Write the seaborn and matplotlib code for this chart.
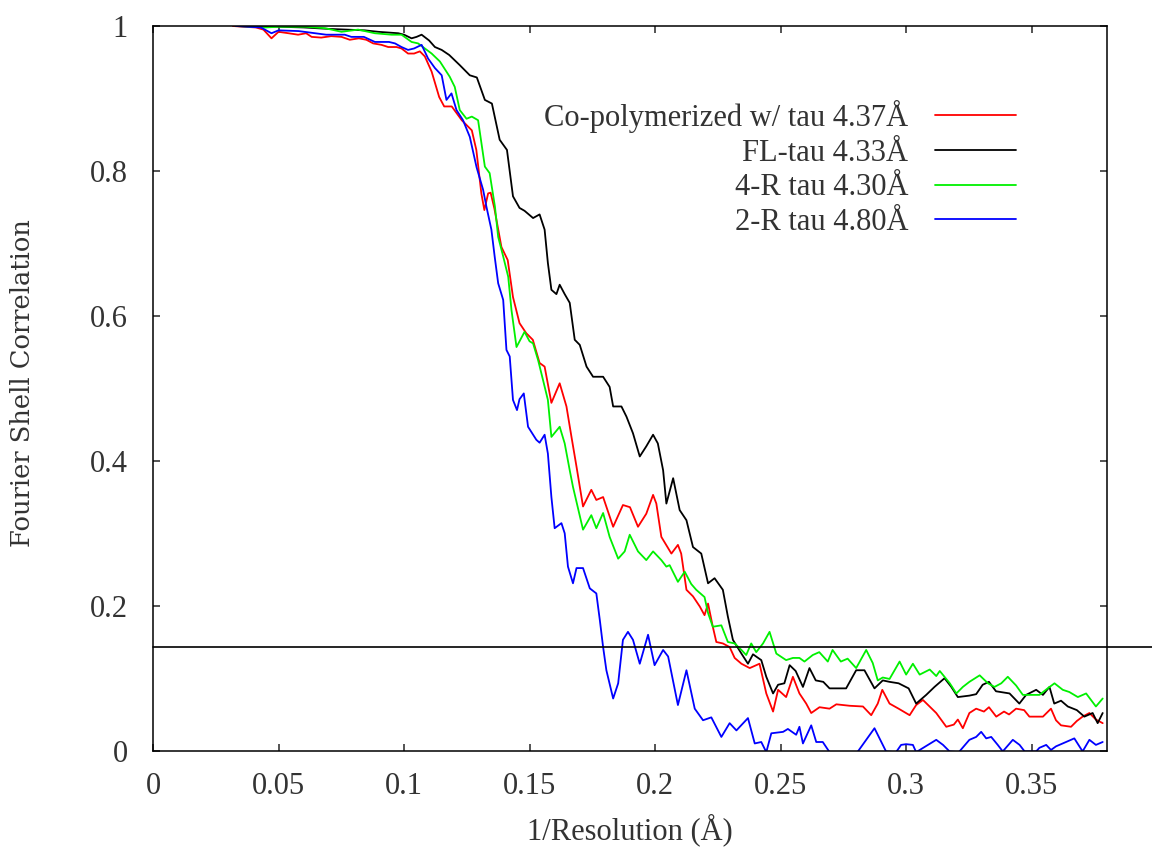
import numpy as np
import pandas as pd
import matplotlib
matplotlib.use("Agg")
import matplotlib.pyplot as plt
import seaborn as sns

# FSC curves (x = 1/resolution in 1/A, y = FSC)
copoly_res = [0.0318, 0.036, 0.041, 0.044, 0.0472, 0.050, 0.054, 0.0578, 0.061, 0.0632,
              0.067, 0.071, 0.0751, 0.0784, 0.082, 0.085, 0.0877, 0.091, 0.0937, 0.097,
              0.099, 0.1016, 0.104, 0.1063, 0.1083, 0.111, 0.114, 0.116, 0.119, 0.123,
              0.127, 0.1288, 0.1308, 0.132, 0.1335, 0.1345, 0.136, 0.1388, 0.1413, 0.1434,
              0.146, 0.1487, 0.1513, 0.154, 0.156, 0.1587, 0.162, 0.1647, 0.1667, 0.1687,
              0.1713, 0.1746, 0.1766, 0.1793, 0.1833, 0.1872, 0.190, 0.1932, 0.1965, 0.1992,
              0.2005, 0.2025, 0.2065, 0.2091, 0.2104, 0.2125, 0.2151, 0.2178, 0.2197, 0.2211,
              0.223, 0.2244, 0.227, 0.2297, 0.2317, 0.2344, 0.2377, 0.2416, 0.2443, 0.247,
              0.249, 0.2522, 0.2549, 0.2575, 0.2602, 0.2622, 0.2655, 0.2695, 0.2722, 0.2775,
              0.2828, 0.2861, 0.2887, 0.2905, 0.2934, 0.297, 0.3014, 0.304, 0.3067, 0.312,
              0.316, 0.319, 0.3206, 0.3226, 0.3252, 0.3279, 0.331, 0.333, 0.3359, 0.339,
              0.341, 0.3438, 0.347, 0.3491, 0.3545, 0.3577, 0.3597, 0.3617, 0.3657, 0.368,
              0.3703, 0.373, 0.3756, 0.3783]
copoly_fsc = [1.0, 0.999, 0.998, 0.995, 0.983, 0.992, 0.990, 0.988, 0.990, 0.985,
              0.984, 0.986, 0.985, 0.981, 0.983, 0.981, 0.976, 0.974, 0.971, 0.971,
              0.969, 0.962, 0.962, 0.965, 0.958, 0.937, 0.902, 0.889, 0.889, 0.870,
              0.856, 0.829, 0.769, 0.746, 0.769, 0.770, 0.748, 0.695, 0.677, 0.626,
              0.590, 0.576, 0.567, 0.535, 0.530, 0.480, 0.507, 0.475, 0.433, 0.392,
              0.337, 0.360, 0.346, 0.350, 0.309, 0.339, 0.336, 0.309, 0.327, 0.353,
              0.341, 0.295, 0.272, 0.284, 0.272, 0.222, 0.213, 0.199, 0.187, 0.203,
              0.171, 0.150, 0.148, 0.143, 0.128, 0.120, 0.114, 0.120, 0.079, 0.054,
              0.084, 0.074, 0.102, 0.079, 0.065, 0.052, 0.060, 0.058, 0.064, 0.062,
              0.061, 0.049, 0.065, 0.084, 0.065, 0.058, 0.049, 0.063, 0.070, 0.052,
              0.033, 0.036, 0.043, 0.031, 0.052, 0.058, 0.054, 0.060, 0.047, 0.054,
              0.050, 0.058, 0.056, 0.047, 0.047, 0.058, 0.042, 0.035, 0.033, 0.041,
              0.047, 0.052, 0.043, 0.038]

fl_res = [0.033, 0.050, 0.060, 0.070, 0.0844, 0.0897, 0.0977, 0.100, 0.103, 0.105,
          0.107, 0.110, 0.1123, 0.115, 0.118, 0.1222, 0.1262, 0.129, 0.1322, 0.135,
          0.1381, 0.141, 0.1434, 0.146, 0.148, 0.1514, 0.154, 0.156, 0.1573, 0.1587,
          0.1607, 0.162, 0.164, 0.166, 0.168, 0.170, 0.1727, 0.1753, 0.1793, 0.1819,
          0.1833, 0.1866, 0.1886, 0.1912, 0.1939, 0.1965, 0.1992, 0.2011, 0.2032, 0.2045,
          0.2072, 0.2098, 0.2125, 0.2151, 0.2184, 0.2211, 0.2237, 0.227, 0.229, 0.231,
          0.2344, 0.237, 0.239, 0.2423, 0.2443, 0.247, 0.249, 0.2515, 0.2536, 0.256,
          0.2589, 0.2615, 0.264, 0.267, 0.2695, 0.2761, 0.2801, 0.2834, 0.2874, 0.2907,
          0.2934, 0.297, 0.301, 0.304, 0.308, 0.3113, 0.3153, 0.318, 0.3206, 0.3252,
          0.3279, 0.3305, 0.333, 0.3358, 0.3412, 0.3451, 0.3478, 0.3518, 0.3545, 0.3571,
          0.359, 0.3617, 0.3644, 0.368, 0.371, 0.3743, 0.3763, 0.3783]
fl_fsc = [1.0, 0.999, 0.998, 0.996, 0.994, 0.992, 0.990, 0.988, 0.983, 0.985,
          0.988, 0.980, 0.971, 0.967, 0.960, 0.946, 0.932, 0.929, 0.898, 0.893,
          0.843, 0.829, 0.765, 0.749, 0.745, 0.735, 0.740, 0.719, 0.673, 0.636,
          0.630, 0.643, 0.630, 0.618, 0.567, 0.560, 0.530, 0.516, 0.516, 0.502,
          0.475, 0.475, 0.461, 0.438, 0.406, 0.420, 0.436, 0.424, 0.387, 0.341,
          0.376, 0.332, 0.318, 0.281, 0.272, 0.231, 0.238, 0.222, 0.185, 0.153,
          0.134, 0.120, 0.133, 0.125, 0.102, 0.079, 0.091, 0.093, 0.118, 0.110,
          0.088, 0.114, 0.097, 0.095, 0.086, 0.086, 0.111, 0.111, 0.086, 0.097,
          0.095, 0.093, 0.086, 0.065, 0.077, 0.088, 0.100, 0.088, 0.074, 0.076,
          0.078, 0.091, 0.095, 0.082, 0.079, 0.065, 0.077, 0.084, 0.077, 0.088,
          0.065, 0.069, 0.061, 0.056, 0.047, 0.052, 0.038, 0.052]

r4_res = [0.033, 0.045, 0.050, 0.0608, 0.0685, 0.0751, 0.0817, 0.0884, 0.095, 0.099,
          0.103, 0.1056, 0.1083, 0.111, 0.1143, 0.1182, 0.1202, 0.1222, 0.1249, 0.127,
          0.1295, 0.1322, 0.1341, 0.1362, 0.1375, 0.1395, 0.1415, 0.1428, 0.1448, 0.148,
          0.150, 0.1514, 0.1534, 0.1554, 0.1573, 0.1587, 0.162, 0.164, 0.166, 0.1673,
          0.1713, 0.1746, 0.1766, 0.1793, 0.1819, 0.1853, 0.1879, 0.1899, 0.1932, 0.1965,
          0.1992, 0.2025, 0.2045, 0.2058, 0.2091, 0.2118, 0.2144, 0.2164, 0.2197, 0.2211,
          0.223, 0.2264, 0.229, 0.2317, 0.2344, 0.2363, 0.2383, 0.2403, 0.243, 0.2456,
          0.2483, 0.2522, 0.2549, 0.2575, 0.2595, 0.2628, 0.2654, 0.2688, 0.2707, 0.274,
          0.2767, 0.2801, 0.2841, 0.2867, 0.2887, 0.2907, 0.2934, 0.2974, 0.300, 0.3027,
          0.3054, 0.3094, 0.312, 0.3134, 0.3174, 0.320, 0.3226, 0.3252, 0.3293, 0.3326,
          0.3352, 0.3379, 0.3405, 0.3438, 0.3465, 0.3531, 0.3564, 0.3591, 0.3624, 0.365,
          0.3684, 0.3717, 0.3756, 0.3783]
r4_fsc = [1.0, 0.998, 0.999, 0.999, 0.997, 0.992, 0.995, 0.990, 0.988, 0.988,
          0.978, 0.976, 0.969, 0.962, 0.951, 0.930, 0.916, 0.884, 0.872, 0.875,
          0.870, 0.806, 0.797, 0.751, 0.709, 0.682, 0.654, 0.608, 0.557, 0.578,
          0.565, 0.562, 0.539, 0.511, 0.484, 0.433, 0.447, 0.424, 0.387, 0.364,
          0.305, 0.325, 0.307, 0.328, 0.295, 0.265, 0.275, 0.298, 0.275, 0.263,
          0.275, 0.263, 0.254, 0.256, 0.233, 0.247, 0.230, 0.222, 0.212, 0.190,
          0.171, 0.173, 0.150, 0.148, 0.139, 0.132, 0.148, 0.136, 0.148, 0.164,
          0.134, 0.125, 0.128, 0.128, 0.123, 0.132, 0.136, 0.123, 0.139, 0.123,
          0.127, 0.114, 0.139, 0.121, 0.097, 0.101, 0.099, 0.123, 0.105, 0.120,
          0.105, 0.112, 0.103, 0.110, 0.093, 0.079, 0.088, 0.095, 0.104, 0.093,
          0.088, 0.093, 0.102, 0.090, 0.077, 0.077, 0.086, 0.093, 0.084, 0.081,
          0.074, 0.079, 0.061, 0.072]

r2_res = [0.033, 0.043, 0.0472, 0.050, 0.058, 0.069, 0.0764, 0.079, 0.084, 0.0884,
          0.094, 0.0964, 0.099, 0.1016, 0.104, 0.107, 0.1096, 0.1123, 0.115, 0.1169,
          0.1189, 0.1209, 0.1235, 0.1262, 0.1289, 0.1315, 0.1328, 0.1348, 0.1361, 0.1375,
          0.1395, 0.1408, 0.1421, 0.1434, 0.145, 0.146, 0.1477, 0.1494, 0.1527, 0.154,
          0.156, 0.1573, 0.1587, 0.160, 0.1627, 0.164, 0.1653, 0.1673, 0.1687, 0.1713,
          0.174, 0.1766, 0.178, 0.1793, 0.1806, 0.1833, 0.1853, 0.1872, 0.1892, 0.1912,
          0.1939, 0.1972, 0.1998, 0.2032, 0.2052, 0.2091, 0.2125, 0.2158, 0.2191, 0.2224,
          0.2264, 0.2297, 0.2324, 0.237, 0.2397, 0.2423, 0.2443, 0.2463, 0.251, 0.2529,
          0.2562, 0.2575, 0.2589, 0.2622, 0.2642, 0.2668, 0.2695, 0.272, 0.278, 0.2808,
          0.2874, 0.292, 0.296, 0.298, 0.300, 0.3027, 0.304, 0.3087, 0.312, 0.3147,
          0.3173, 0.321, 0.3252, 0.3279, 0.3299, 0.3319, 0.3339, 0.3365, 0.3385, 0.3425,
          0.3452, 0.3472, 0.3518, 0.3531, 0.3558, 0.3577, 0.3597, 0.3637, 0.367, 0.3703,
          0.373, 0.3756, 0.3783]
r2_fsc = [1.0, 0.998, 0.990, 0.994, 0.993, 0.988, 0.988, 0.985, 0.985, 0.978,
          0.978, 0.976, 0.971, 0.967, 0.969, 0.974, 0.955, 0.942, 0.932, 0.898,
          0.907, 0.884, 0.870, 0.847, 0.805, 0.774, 0.751, 0.719, 0.682, 0.645,
          0.622, 0.553, 0.544, 0.484, 0.470, 0.485, 0.493, 0.447, 0.429, 0.425,
          0.436, 0.410, 0.350, 0.307, 0.314, 0.300, 0.254, 0.231, 0.252, 0.252,
          0.224, 0.217, 0.180, 0.143, 0.111, 0.072, 0.093, 0.153, 0.164, 0.153,
          0.120, 0.160, 0.118, 0.139, 0.130, 0.063, 0.111, 0.058, 0.042, 0.046,
          0.019, 0.038, 0.028, 0.045, 0.010, 0.012, -0.002, 0.024, 0.026, 0.030,
          0.022, 0.033, 0.010, 0.035, 0.012, 0.012, -0.002, -0.020, -0.020, -0.001,
          0.031, -0.001, -0.002, 0.008, 0.009, 0.008, -0.002, 0.008, 0.015, 0.008,
          -0.001, -0.002, 0.015, 0.019, 0.026, 0.017, 0.019, 0.008, -0.001, 0.015,
          0.008, -0.001, -0.001, 0.004, 0.008, 0.001, 0.006, 0.012, 0.017, -0.001,
          0.015, 0.008, 0.012]

labels = ["Co-polymerized w/ tau 4.37Å", "FL-tau 4.33Å", "4-R tau 4.30Å", "2-R tau 4.80Å"]
colors = ["#ff0000", "#000000", "#00f000", "#0000ff"]
threshold = 0.143
x_ticks = [0, 0.05, 0.1, 0.15, 0.2, 0.25, 0.3, 0.35]
y_ticks = [0, 0.2, 0.4, 0.6, 0.8, 1]

frames = []
for lab, xs, ys in zip(labels, [copoly_res, fl_res, r4_res, r2_res],
                       [copoly_fsc, fl_fsc, r4_fsc, r2_fsc]):
    frames.append(pd.DataFrame({"res": xs, "fsc": ys, "series": lab}))
df = pd.concat(frames, ignore_index=True)

sns.set_style("ticks")
plt.rcParams["font.family"] = ["Liberation Serif", "DejaVu Serif"]
text_col = "#333333"

fig = plt.figure(figsize=(11.52, 8.47), dpi=100)
ax = fig.add_axes([0.1328, 0.1137, 0.8281, 0.8556])

for lab, col in zip(labels, colors):
    sns.lineplot(data=df[df["series"] == lab], x="res", y="fsc", color=col,
                 sort=False, estimator=None, lw=1.3, label=lab, ax=ax)

# 0.143 threshold, running past the right frame like the original
ax.axhline(threshold, xmin=0, xmax=1.05, color="black", lw=1.2, clip_on=False)

ax.set_xlim(0, 0.38)
ax.set_ylim(0, 1)
ax.set_xticks(x_ticks)
ax.set_yticks(y_ticks)
ax.set_xticklabels([f"{v:g}" for v in x_ticks])
ax.set_yticklabels([f"{v:g}" for v in y_ticks])
ax.tick_params(direction="in", length=5, width=1.1, top=True, right=True,
               labelsize=22, labelcolor=text_col)
ax.tick_params(axis="x", pad=15)
ax.tick_params(axis="y", pad=18)
for sp in ax.spines.values():
    sp.set_linewidth(1.1)
    sp.set_color("black")

ax.set_xlabel("1/Resolution (Å)", fontsize=22, color=text_col)
ax.set_ylabel("Fourier Shell Correlation", fontsize=18.5, color=text_col,
              family="DejaVu Serif")
ax.xaxis.set_label_coords(0.5, -0.086)
ax.yaxis.set_label_coords(-0.124, 0.507)

leg = ax.legend(loc="upper right", bbox_to_anchor=(0.9046, 0.898), frameon=False,
                markerfirst=False, fontsize=22, handlelength=2.65, handletextpad=0.88,
                labelspacing=0.185, borderpad=0, borderaxespad=0)
for t in leg.get_texts():
    t.set_color(text_col)

fig.savefig("out.png", dpi=100)
